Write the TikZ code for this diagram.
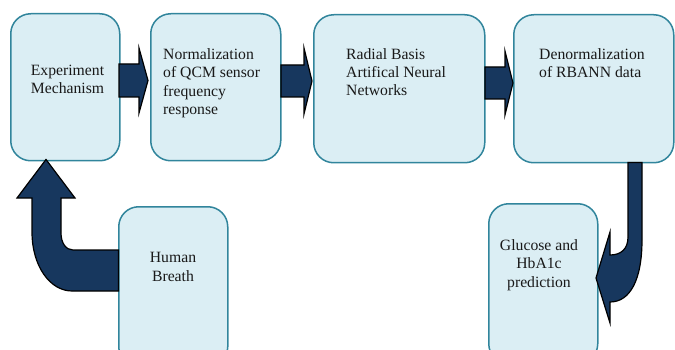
\documentclass[tikz,border=0pt]{standalone}
\usepackage{fontspec}
\setmainfont{Liberation Serif}
\usetikzlibrary{calc}
\definecolor{boxfill}{HTML}{DBEEF4}
\definecolor{boxline}{HTML}{31859C}
\definecolor{arrowfill}{HTML}{17375E}
\tikzset{
  box/.style={draw=boxline, fill=boxfill, line width=1.5pt, rounded corners=20pt,
    inner sep=0pt, anchor=north west},
  lbl/.style={font=\fontsize{15.7}{18.3}\selectfont, inner sep=0pt, text=black!90},
  blockarrow/.style={fill=arrowfill, draw=black, line width=1.2pt, line join=miter},
}
\begin{document}
\begin{tikzpicture}[x=1pt,y=-1pt]
\clip (0,0) rectangle (675,350);
% boxes
\node[box, minimum width=109pt, minimum height=147pt] (b1) at (10,13) {};
\node[box, minimum width=130pt, minimum height=147pt] (b2) at (150,13) {};
\node[box, minimum width=171pt, minimum height=148pt] (b3) at (313,14) {};
\node[box, minimum width=160pt, minimum height=148pt] (b4) at (513,14) {};
\node[box, minimum width=109pt, minimum height=160pt] (b5) at (118,206) {};
\node[box, minimum width=109pt, minimum height=160pt] (b6) at (488,203) {};
% labels (base anchor = baseline of last line)
\node[lbl, align=center, anchor=base] (t1) at (67.5,93.5) {Experiment\\Mechanism};
\node[lbl, align=left, anchor=base west] (t2) at (163,114.5) {Normalization\\of QCM sensor\\frequency\\response};
\node[lbl, align=left, anchor=base west] (t3) at (346,96) {Radial Basis\\Artifical Neural\\Networks};
\node[lbl, align=left, anchor=base west] (t4) at (539,77.8) {Denormalization\\of RBANN data};
\node[lbl, align=center, anchor=base] (t5) at (173,281) {Human\\Breath};
\node[lbl, align=center, anchor=base] (t6) at (539,287) {Glucose and\\HbA1c\\prediction};
% straight block arrows
\draw[blockarrow] (119,64) -- (139,64) -- (139,48) -- (148,80.5) -- (139,113) -- (139,97) -- (119,97) -- cycle;
\draw[blockarrow] (281,65) -- (304,65) -- (304,48) -- (312,81) -- (304,114) -- (304,97) -- (281,97) -- cycle;
\draw[blockarrow] (485,67) -- (505,67) -- (505,51) -- (513,83) -- (505,115) -- (505,99) -- (485,99) -- cycle;
% bent arrow b4 -> b6
\draw[blockarrow] (628,162.5) -- (628,237) .. controls (628,249) and (621,255) .. (610,255)
  -- (610,232) -- (596,278) -- (610,323) -- (610,302)
  .. controls (630,302) and (642,280) .. (642,240) -- (642,162.5) -- cycle;
% bent arrow b5 -> b1
\draw[blockarrow] (118.5,250) -- (73,250) .. controls (66,250) and (61,243) .. (61,233)
  -- (61,198) -- (75,198) -- (46,159.5) -- (17,198) -- (32,198) -- (32,232)
  .. controls (32,266) and (50,291) .. (72,291) -- (118.5,291) -- cycle;
\end{tikzpicture}
\end{document}
